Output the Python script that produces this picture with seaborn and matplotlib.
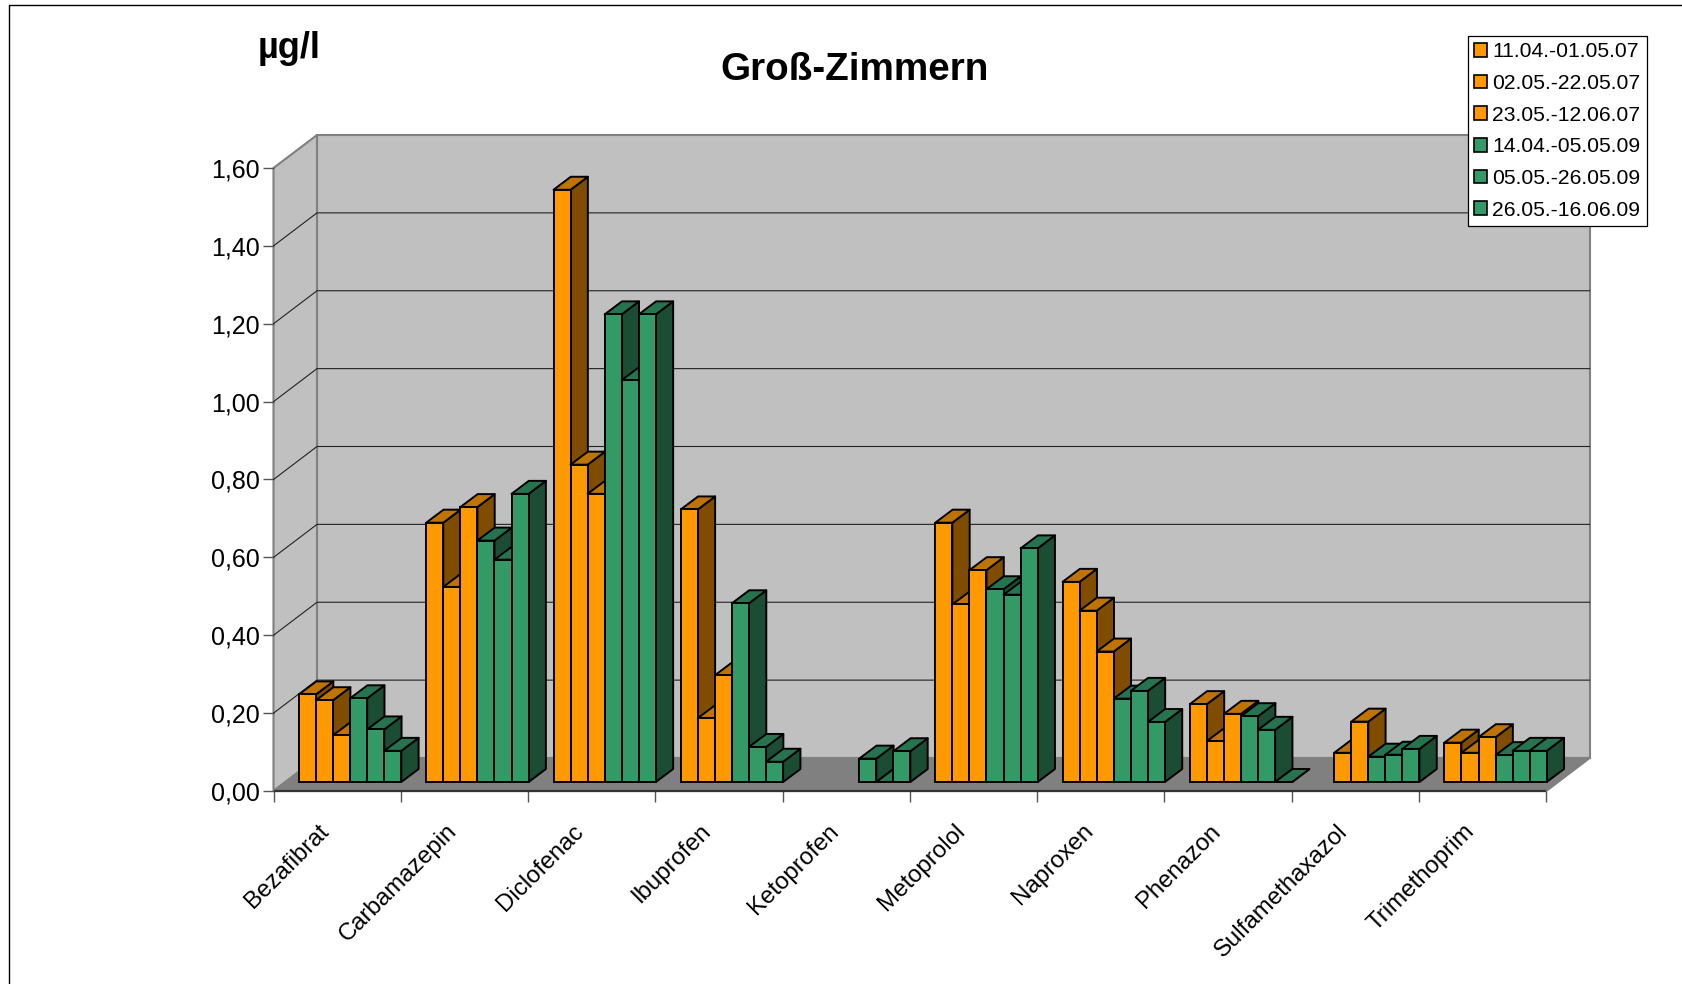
import matplotlib
matplotlib.use("Agg")
import matplotlib.pyplot as plt
from matplotlib.colors import same_color
from matplotlib.lines import Line2D
from matplotlib.patches import Patch
import seaborn as sns
import pandas as pd

substances = ["Bezafibrat", "Carbamazepin", "Diclofenac", "Ibuprofen", "Ketoprofen",
              "Metoprolol", "Naproxen", "Phenazon", "Sulfamethaxazol", "Trimethoprim"]
periods = ["11.04.-01.05.07", "02.05.-22.05.07", "23.05.-12.06.07",
           "14.04.-05.05.09", "05.05.-26.05.09", "26.05.-16.06.09"]

s1 = [0.225, 0.666, 1.521, 0.700, None, 0.666, 0.514, 0.200, None, 0.101]
s2 = [0.210, 0.501, 0.815, 0.164, None, 0.456, 0.440, 0.105, 0.075, 0.075]
s3 = [0.120, 0.706, 0.740, 0.274, None, 0.544, 0.335, 0.175, 0.155, 0.115]
s4 = [0.215, 0.620, 1.201, 0.459, 0.060, 0.495, 0.214, 0.169, 0.065, 0.069]
s5 = [0.135, 0.571, 1.032, 0.090, 0.000, 0.481, 0.234, 0.134, 0.070, 0.080]
s6 = [0.080, 0.740, 1.201, 0.052, 0.079, 0.600, 0.154, 0.000, 0.085, 0.080]

yticks = [0, 0.2, 0.4, 0.6, 0.8, 1.0, 1.2, 1.4, 1.6]

ORANGE = ("#FF9900", "#BF7300", "#804D00")
GREEN = ("#339966", "#267350", "#1A4D33")

W, H = 1683, 984
AX_L, AX_R, AX_TOP, AX_BOT = 273.5, 1546.2, 168, 791
DEPTH_X, DEPTH_Y = 43.5, 33          # floor depth in px
BAR_DX, BAR_DY = 17.3, 13            # bar depth in px
SHIFT_X, SHIFT_Y = 13, 9             # bars stand this far back from the front edge
EDGE_LW = 1.4

sns.set_theme(style="white")
plt.rcParams["font.family"] = ["Liberation Sans", "DejaVu Sans"]

df = pd.DataFrame({"substance": substances, periods[0]: s1, periods[1]: s2, periods[2]: s3,
                   periods[3]: s4, periods[4]: s5, periods[5]: s6})
long_df = df.melt(id_vars="substance", var_name="period", value_name="value").dropna()

fig = plt.figure(figsize=(W / 100, H / 100), dpi=100)
ax = fig.add_axes([AX_L / W, 1 - AX_BOT / H, (AX_R - AX_L) / W, (AX_BOT - AX_TOP) / H])

palette = {p: (ORANGE if i < 3 else GREEN)[0] for i, p in enumerate(periods)}
sns.barplot(data=long_df, x="substance", y="value", hue="period", order=substances,
            hue_order=periods, palette=palette, width=102.4 / 127.34, gap=0,
            saturation=1, edgecolor="black", linewidth=EDGE_LW, legend=False, ax=ax)
bars = [p for p in ax.patches if p.get_height() == p.get_height()]
bars.sort(key=lambda p: p.get_x())

ax.set_xlim(-0.5, 9.5)
ax.set_ylim(0, 1.6)
ax.set_xlabel("")
ax.set_ylabel("")
for s in ax.spines.values():
    s.set_visible(False)
ax.patch.set_visible(False)

# px to data units
ux = 10 / (AX_R - AX_L)
uy = 1.6 / (AX_BOT - AX_TOP)
dx, dy = DEPTH_X * ux, DEPTH_Y * uy
bdx, bdy = BAR_DX * ux, BAR_DY * uy

# walls and floor
x0, x1 = -0.5, 9.5
wall = dict(clip_on=False, zorder=0.5, edgecolor="#808080", linewidth=1.5)
ax.fill([x0 + dx, x1 + dx, x1 + dx, x0 + dx], [dy, dy, 1.6 + dy, 1.6 + dy], facecolor="#C0C0C0", **wall)
ax.fill([x0, x0 + dx, x0 + dx, x0], [0, dy, 1.6 + dy, 1.6], facecolor="#C0C0C0", **wall)
ax.fill([x0, x1, x1 + dx, x0 + dx], [0, 0, dy, dy], facecolor="#808080", **wall)
for v in yticks[1:-1]:
    ax.plot([x0, x0 + dx, x1 + dx], [v, v + dy, v + dy], color="#222222", lw=0.8, clip_on=False, zorder=0.6)
ax.plot([x0, x1], [0, 0], color="#333333", lw=1.6, clip_on=False, zorder=0.7, solid_capstyle="butt")

# depth faces, painted left to right
for n, p in enumerate(bars):
    cols = GREEN if same_color(p.get_facecolor(), GREEN[0]) else ORANGE
    left = p.get_x() + SHIFT_X * ux
    base = SHIFT_Y * uy
    top = base + p.get_height()
    right = left + p.get_width()
    z = 2 + n * 0.01
    edge = dict(edgecolor="black", linewidth=EDGE_LW, clip_on=False, zorder=z, joinstyle="round")
    ax.fill([right, right + bdx, right + bdx, right], [base, base + bdy, top + bdy, top], facecolor=cols[2], **edge)
    ax.fill([left, right, right + bdx, left + bdx], [top, top, top + bdy, top + bdy], facecolor=cols[1], **edge)
    p.set_x(left)
    p.set_y(base)
    p.set_zorder(z + 0.001)
    p.set_clip_on(False)

# ticks sit on the category borders, names go on minor ticks
ax.set_xticks([i - 0.5 for i in range(11)])
ax.set_xticklabels([])
ax.set_xticks([i - 0.15 for i in range(10)], minor=True)
ax.set_xticklabels(substances, minor=True, rotation=45, ha="right", rotation_mode="anchor", fontsize=17.3, color="black")
ax.tick_params(axis="x", which="major", length=8, width=1.0, color="#555555", bottom=True)
ax.tick_params(axis="x", which="minor", length=0, pad=21, bottom=True)
ax.set_yticks(yticks)
ax.set_yticklabels([f"{v:.2f}".replace(".", ",") for v in yticks], fontsize=18, color="black")
ax.tick_params(axis="y", length=8, width=1.0, color="#555555", left=True, pad=2)

fig.text(720 / W, 1 - 70 / H, "Groß-Zimmern", fontsize=27.8, fontweight="bold",
         color="black", ha="left", va="center")
fig.text(257.5 / W, 1 - 48 / H, "µg/l", fontsize=26, fontweight="bold", color="black", ha="left", va="center")

handles = [Patch(facecolor=palette[p], edgecolor="black", linewidth=1.2) for p in periods]
leg = fig.legend(handles, periods, loc="upper left", bbox_to_anchor=(1467.7 / W, 1 - 36 / H),
                 borderaxespad=0, fontsize=15.2, frameon=True, fancybox=False, framealpha=1,
                 edgecolor="black", facecolor="white", handlelength=0.62, handleheight=0.62,
                 handletextpad=0.25, labelspacing=0.6, borderpad=0.3, labelcolor="black")
leg.get_frame().set_linewidth(0.9)

# outer chart frame, only top and left are in the picture
fig.add_artist(Line2D([8.5 / W, 8.5 / W, 1], [0, 1 - 5.3 / H, 1 - 5.3 / H], color="black", lw=1.0))

fig.savefig("out.png", dpi=100, facecolor="white")
